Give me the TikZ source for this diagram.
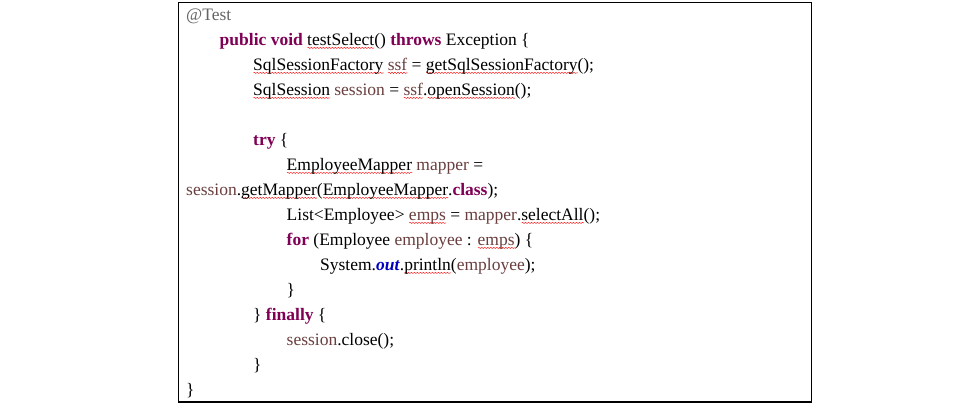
\documentclass[tikz,border=0pt]{standalone}
\usepackage{fontspec}
\setmainfont{Liberation Serif}
\usetikzlibrary{decorations.pathmorphing}

\definecolor{kwcol}{HTML}{7F0055}
\definecolor{localcol}{HTML}{6A3E3E}
\definecolor{annocol}{HTML}{646464}
\definecolor{fieldcol}{HTML}{0000C0}
\definecolor{spellcol}{HTML}{FF0000}

\newsavebox\spellbox
\newcommand\spell[1]{\sbox\spellbox{#1}%
  \rlap{\tikz[baseline=0pt,x=1pt,y=1pt]\draw[spellcol,line width=0.4pt,decorate,
    decoration={snake,amplitude=0.6pt,segment length=3pt}] (0,-2.4) -- (\the\wd\spellbox,-2.4);}%
  \usebox\spellbox}
\newcommand\keyw[1]{\textcolor{kwcol}{\textbf{#1}}}
\newcommand\local[1]{\textcolor{localcol}{#1}}

\begin{document}
\begin{tikzpicture}[x=1pt, y=-1pt,
      every node/.append style={anchor=base west, inner sep=0pt, font=\fontsize{17.5}{21}\selectfont}]
    \tikzstyle{frame} = [draw=black, line width=1pt]
    \useasboundingbox (0,0) rectangle (953,411);
    \draw[frame] (178,3) rectangle (811,402);
    \node (test) at (186,20.5) {\textcolor{annocol}{@Test}};
    \node (head) at (219.5,45.5) {\keyw{public void} \spell{testSelect}() \keyw{throws} Exception \{};
    \node (factory) at (253,70.5) {\spell{SqlSessionFactory} \local{\spell{ssf}} = \spell{getSqlSessionFactory}();};
    \node (open) at (253,95.5) {\spell{SqlSession} \local{session} = \local{\spell{ssf}}.\spell{openSession}();};
    \node (try) at (253,145.5) {\keyw{try} \{};
    \node (mapper) at (286.5,170.5) {\spell{EmployeeMapper} \local{mapper} =};
    \node (getmapper) at (186,195.5) {\local{session}.\spell{getMapper}(\spell{EmployeeMapper}.\keyw{class});};
    \node (emps) at (286.5,220.5) {List<Employee> \local{\spell{emps}} = \local{mapper}.\spell{selectAll}();};
    \node (for) at (286.5,245.5) {\keyw{for} (Employee \local{employee} : \local{\spell{emps}}) \{};
    \node (println) at (320,270.5) {System.\textcolor{fieldcol}{\textbf{\textit{out}}}.\spell{println}(\local{employee});};
    \node (forend) at (286.5,295.5) {\}};
    \node (finally) at (253,320.5) {\} \keyw{finally} \{};
    \node (close) at (286.5,345.5) {\local{session}.close();};
    \node (tryend) at (253,370.5) {\}};
    \node (end) at (186,395.5) {\}};
  \end{tikzpicture}
\end{document}
